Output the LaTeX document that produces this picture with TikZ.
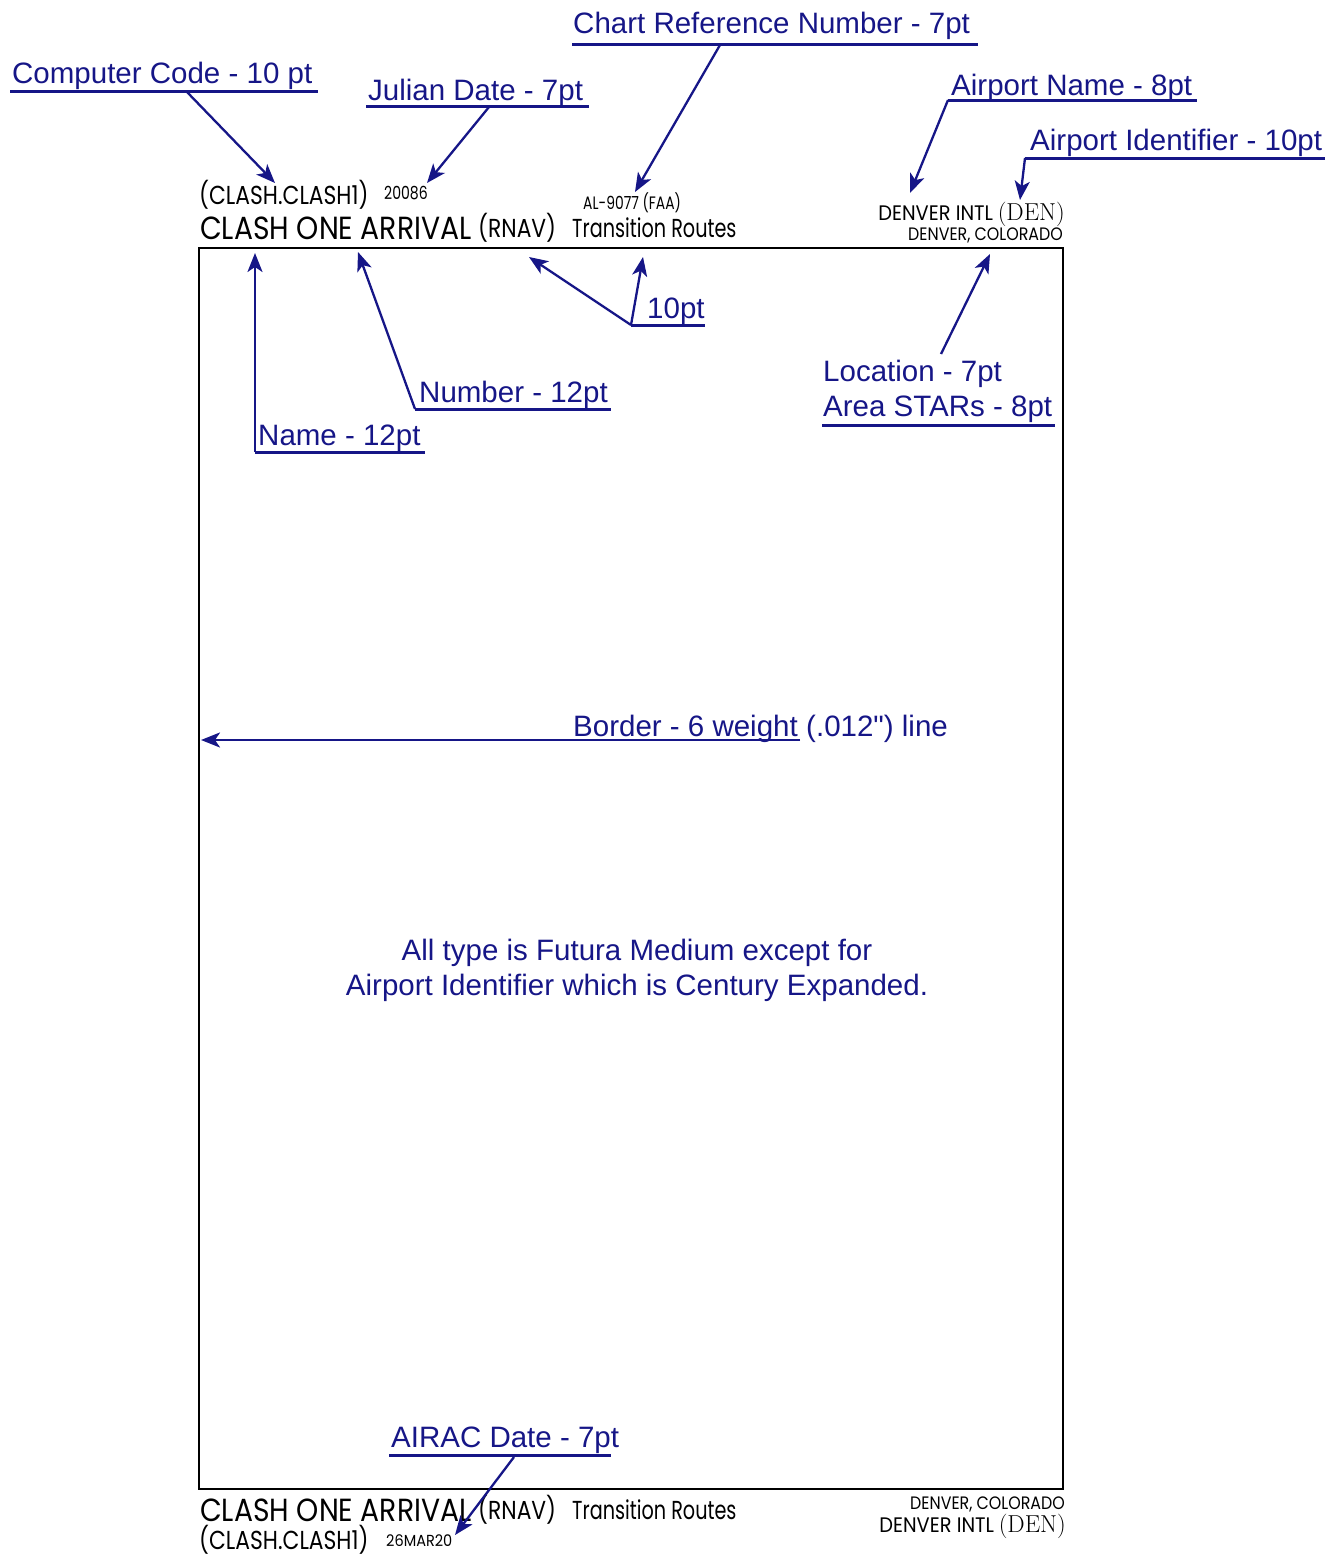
\documentclass[tikz,border=0pt]{standalone}
\usepackage{fontspec}
\usepackage{graphicx}
\usetikzlibrary{arrows.meta}
\newfontfamily\arialf{Liberation Sans}
\newfontfamily\futf[FakeStretch=0.84]{Poppins}
\definecolor{navy}{RGB}{22,22,135}
\tikzset{
  lbl/.style={text=navy, font=\arialf\fontsize{29.5}{34}\selectfont, inner sep=0pt, anchor=base west},
  uline/.style={draw=navy, line width=3pt},
  arr/.style={draw=navy, line width=2.3pt, -{Stealth[length=19pt,width=15pt,inset=5pt]}},
  blk/.style={inner sep=0pt, anchor=base west, text=black},
  ftwelve/.style={font=\futf\fontsize{32}{36}\selectfont},
  ften/.style={font=\futf\fontsize{26}{30}\selectfont},
  feight/.style={font=\futf\fontsize{21}{25}\selectfont},
  fseven/.style={font=\futf\fontsize{18}{21}\selectfont},
  fsix/.style={font=\futf\fontsize{16}{19}\selectfont},
}
\newcommand{\hs}[2]{\scalebox{#1}[1]{#2}}
\newcommand{\denid}{{\rmfamily\fontsize{24.5}{28}\selectfont(DEN)}}
\begin{document}
\begin{tikzpicture}[x=1pt,y=-1pt]
\useasboundingbox (0,0) rectangle (1337,1558);
% border
\draw[line width=2.5pt] (199,248) rectangle (1063,1489);
\coordinate (bdleft) at (201,740);
% header texts
\node[blk,ften] (cc) at (199,204) {(CLASH.CLASH1)};
\node[blk,fseven] (jd) at (384,199) {\hs{0.93}{20086}};
\node[blk,ftwelve] (nm) at (200,239) {\hs{1.05}{CLASH ONE ARRIVAL}};
\node[blk,ften] (rnav) at (478,237) {(RNAV)};
\node[blk,ften] (tr) at (572,237) {\hs{0.88}{Transition Routes}};
\node[blk,fseven] (al) at (583,209) {\hs{0.92}{AL-9077 (FAA)}};
\node[blk,feight,anchor=base east] (apt) at (1065,220) {\hs{1.1}{DENVER INTL} \denid};
\node[blk,fseven,anchor=base east] (loc) at (1063,240) {\hs{1.05}{DENVER, COLORADO}};
% footer texts
\node[blk,ftwelve] (nmb) at (200,1521) {\hs{1.05}{CLASH ONE ARRIVAL}};
\node[blk,ften] (rnavb) at (478,1519) {(RNAV)};
\node[blk,ften] (trb) at (572,1519) {\hs{0.88}{Transition Routes}};
\node[blk,ften] (ccb) at (199,1549) {(CLASH.CLASH1)};
\node[blk,fsix] (airac) at (386,1546) {\hs{1.08}{26MAR20}};
\node[blk,fseven,anchor=base east] (locb) at (1065,1509) {\hs{1.05}{DENVER, COLORADO}};
\node[blk,feight,anchor=base east] (aptb) at (1066,1532) {\hs{1.1}{DENVER INTL} \denid};
% arrow targets
\coordinate (tcc) at (275,183);
\coordinate (tjd) at (427,183);
\coordinate (tcr) at (635,192);
\coordinate (tan) at (910,193);
\coordinate (tai) at (1020,200);
\coordinate (tnm) at (255,253);
\coordinate (tnum) at (358,252);
\coordinate (tten1) at (529,257);
\coordinate (tten2) at (643,257);
\coordinate (tloc) at (990,254);
\coordinate (tair) at (455,1535);
% labels
\node[lbl] (Lcc) at (12,83) {Computer Code - 10 pt};
\node[lbl] (Ljd) at (368,100) {Julian Date - 7pt};
\node[lbl] (Lcr) at (573,33) {Chart Reference Number - 7pt};
\node[lbl] (Lan) at (951,95) {Airport Name - 8pt};
\node[lbl] (Lai) at (1030,150) {Airport Identifier - 10pt};
\node[lbl] (Lten) at (647,318) {10pt};
\node[lbl] (Lnum) at (419,402) {Number - 12pt};
\node[lbl] (Lnm) at (258,445) {Name - 12pt};
\node[lbl] (Lloc) at (823,381) {Location - 7pt};
\node[lbl] (Lstar) at (823,416) {Area STARs - 8pt};
\node[lbl] (Lbd) at (573,736) {Border - 6 weight};
\node[lbl,anchor=base west] (Lbd2) at ([xshift=8pt]Lbd.base east) {(.012") line};
\node[lbl] (Lair) at (391,1447) {AIRAC Date - 7pt};
\node[lbl,anchor=base] (Lc1) at (637,960) {All type is Futura Medium except for};
\node[lbl,anchor=base] (Lc2) at (637,995) {Airport Identifier which is Century Expanded.};
% underline end points
\coordinate (ucc1) at (10,91);   \coordinate (ucc2) at (318,91);  \coordinate (scc) at (187,92);
\coordinate (ujd1) at (366,106); \coordinate (ujd2) at (589,106); \coordinate (sjd) at (489,107);
\coordinate (ucr1) at (572,44);  \coordinate (ucr2) at (978,44);  \coordinate (scr) at (720,45);
\coordinate (uan1) at (948,100); \coordinate (uan2) at (1197,100);
\coordinate (uai1) at (1025,158); \coordinate (uai2) at (1325,158);
\coordinate (uten1) at (631,325); \coordinate (uten2) at (705,325);
\coordinate (unum1) at (415,409); \coordinate (unum2) at (611,409);
\coordinate (unm1) at (255,452); \coordinate (unm2) at (425,452);
\coordinate (ust1) at (822,425); \coordinate (ust2) at (1055,425); \coordinate (sloc) at (941,354);
\coordinate (ubd) at (800,740);
\coordinate (uair1) at (389,1455); \coordinate (uair2) at (611,1455); \coordinate (sair) at (514,1457);
% underlines
\foreach \a/\b in {ucc1/ucc2,ujd1/ujd2,ucr1/ucr2,uan1/uan2,uai1/uai2,uten1/uten2,unum1/unum2,unm1/unm2,ust1/ust2,uair1/uair2}
  \draw[uline] (\a) -- (\b);
% arrows
\draw[arr] (scc) -- (tcc);
\draw[arr] (sjd) -- (tjd);
\draw[arr] (scr) -- (tcr);
\draw[arr] (uan1) -- (tan);
\draw[arr] (uai1) -- (tai);
\draw[arr] (uten1) -- (tten1);
\draw[arr] (uten1) -- (tten2);
\draw[arr] (unum1) -- (tnum);
\draw[arr] (unm1) -- (tnm);
\draw[arr] (sloc) -- (tloc);
\draw[arr,line width=2.6pt] (ubd) -- (bdleft);
\draw[arr] (sair) -- (tair);
\end{tikzpicture}
\end{document}
